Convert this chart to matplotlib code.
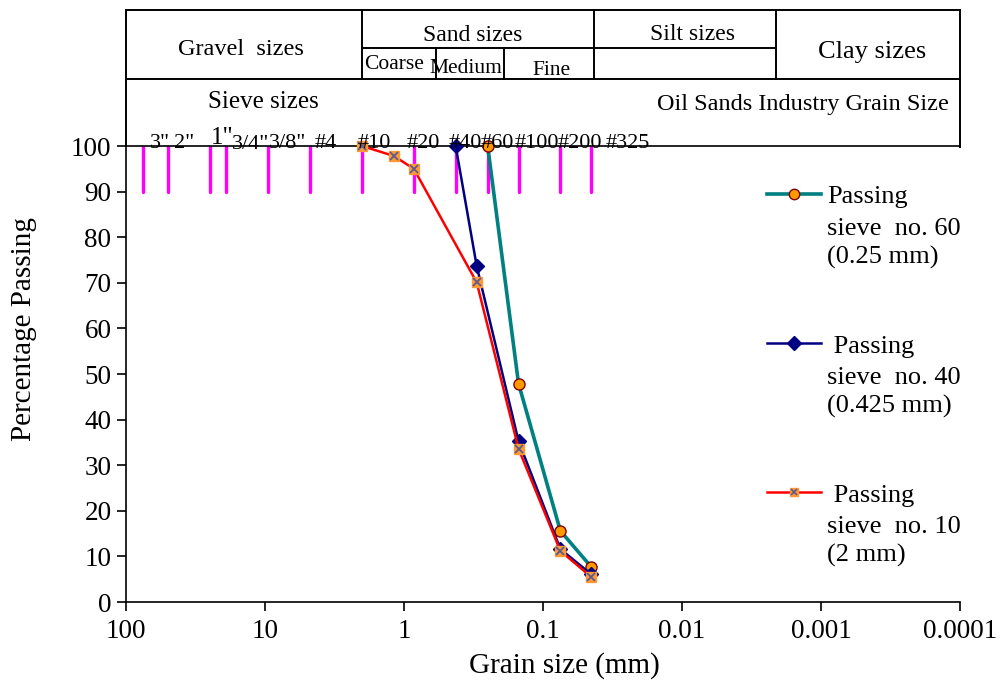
import matplotlib
matplotlib.use("Agg")
import matplotlib.pyplot as plt
from matplotlib.lines import Line2D
import numpy as np

plt.rcParams['font.family'] = ['Liberation Serif', 'DejaVu Serif']

# ---------------- data ----------------
grain_60 = [0.25, 0.15, 0.075, 0.045]
pass_60 = [100, 47.9, 15.6, 7.7]

grain_40 = [0.425, 0.3, 0.15, 0.075, 0.045]
pass_40 = [100, 73.7, 35.3, 11.6, 6.1]

grain_10 = [2.0, 1.18, 0.85, 0.3, 0.15, 0.075, 0.045]
pass_10 = [100, 97.8, 95.0, 70.1, 33.6, 11.2, 5.5]

sieve_sizes_mm = [75, 50, 25, 19, 9.5, 4.75, 2.0, 0.85, 0.425, 0.25, 0.15, 0.075, 0.045]
sieve_labels = ['3"', '2"', '1"', '3/4"', '3/8"', '#4', '#10', '#20', '#40', '#60', '#100', '#200', '#325']

x_ticks = [100, 10, 1, 0.1, 0.01, 0.001, 0.0001]
x_tick_labels = ['100', '10', '1', '0.1', '0.01', '0.001', '0.0001']
y_ticks = [0, 10, 20, 30, 40, 50, 60, 70, 80, 90, 100]

legend_labels = [["Passing", "sieve  no. 60", "(0.25 mm)"],
                 [" Passing", "sieve  no. 40", "(0.425 mm)"],
                 [" Passing", "sieve  no. 10", "(2 mm)"]]

# ---------------- figure ----------------
W, H = 1003, 690
fig = plt.figure(figsize=(W / 100, H / 100), dpi=100)

def fx(x):
    return x / W

def fy(y):
    return 1 - y / H

ax_l, ax_r, ax_t, ax_b = 126, 960, 146, 602
ax = fig.add_axes([fx(ax_l), fy(ax_b), (ax_r - ax_l) / W, (ax_b - ax_t) / H])
ax.set_xscale('log')
ax.set_xlim(100, 0.0001)
ax.set_ylim(0, 100)

# sieve marks
for s in sieve_sizes_mm:
    ax.plot([s, s], [90, 100], color='#FF00FF', lw=2.4, solid_capstyle='round', zorder=2)

# series
TEAL = '#008080'
NAVY = '#000080'
RED = '#FF0000'
ORANGE = '#FF9900'

ax.plot(grain_60, pass_60, color=TEAL, lw=2.6, marker='o', ms=8,
        mfc=ORANGE, mec='#800000', mew=1.0, zorder=3, clip_on=False)
ax.plot(grain_40, pass_40, color=NAVY, lw=1.8, marker='D', ms=7.5,
        mfc=NAVY, mec=NAVY, zorder=4, clip_on=False)
ax.plot(grain_10, pass_10, color=RED, lw=1.8, marker='s', ms=6.5,
        mfc='#FF9933', mec='#FF9933', zorder=5, clip_on=False)
ax.plot(grain_10, pass_10, ls='none', marker='x', ms=5.5,
        mec='#5B5B8F', mew=1.3, zorder=6, clip_on=False)

# axes styling
ax.spines['right'].set_visible(False)
for sp in ['left', 'bottom', 'top']:
    ax.spines[sp].set_linewidth(1.2)
ax.set_xticks(x_ticks)
ax.set_xticklabels(x_tick_labels)
ax.xaxis.set_minor_locator(matplotlib.ticker.NullLocator())
ax.set_yticks(y_ticks)
ax.tick_params(axis='both', direction='out', length=6.5, width=1.2,
               labelsize=19.5, pad=4)
ax.tick_params(axis='x', pad=6)

ax.set_xlabel('Grain size (mm)', fontsize=21, va='baseline', ha='center')
ax.xaxis.set_label_coords((564 - ax_l) / (ax_r - ax_l), (ax_b - 673) / (ax_b - ax_t))
ax.set_ylabel('Percentage Passing', fontsize=21, va='center', ha='center',
              rotation_mode='default')
ax.yaxis.set_label_coords((24 - ax_l) / (ax_r - ax_l), (ax_b - 329.5) / (ax_b - ax_t))

# ---------------- header table ----------------
def hline(y, x0, x1, lw=1.4):
    fig.add_artist(Line2D([fx(x0), fx(x1)], [fy(y), fy(y)], color='black', lw=lw,
                          transform=fig.transFigure))

def vline(x, y0, y1, lw=1.4):
    fig.add_artist(Line2D([fx(x), fx(x)], [fy(y0), fy(y1)], color='black', lw=lw,
                          transform=fig.transFigure))

top_y, mid_y, sub_y = 9.5, 79, 47.7
hline(top_y, ax_l, ax_r)
hline(mid_y, ax_l, ax_r)
hline(sub_y, 362, 776)
vline(ax_l, top_y, ax_t)
vline(ax_r, top_y, ax_t + 1)
for xv in [362, 594, 776]:
    vline(xv, top_y, mid_y)
for xv in [435.7, 504]:
    vline(xv, sub_y, mid_y)

def ftext(x, y, s, size, ha='center', va='baseline'):
    fig.text(fx(x), fy(y), s, fontsize=size, ha=ha, va=va)

ftext(241, 55, 'Gravel  sizes', 17.5)
ftext(472.7, 40.7, 'Sand sizes', 17)
ftext(394, 69, 'Coarse', 15.5)
ftext(465.5, 73.3, 'Medium', 15.5)
ftext(551.7, 75, 'Fine', 15.5)
ftext(692.7, 40, 'Silt sizes', 17)
ftext(872, 58.3, 'Clay sizes', 19)
ftext(263, 108.3, 'Sieve sizes', 18)
ftext(949, 110, 'Oil Sands Industry Grain Size', 17.5, ha='right')

# sieve labels (positions in pixels)
label_x = [160, 184.5, 222, 251, 288, 326, 374, 423, 465, 497, 537, 580, 628]
label_y = [148, 148, 143.5, 149, 148, 148, 147.5, 147.5, 147.5, 147.5, 147.5, 147.5, 147.5]
label_sz = [16, 16, 18, 16, 16, 16, 16, 16, 16, 16, 16, 16, 16]
for xs, ys, lab, sz in zip(label_x, label_y, sieve_labels, label_sz):
    ftext(xs, ys, lab, sz)

# ---------------- legend (manual) ----------------
handles_y = [194.3, 342.7, 492]
hx0, hx1 = 767, 821
hxm = (hx0 + hx1) / 2
fig.add_artist(Line2D([fx(hx0), fx(hx1)], [fy(handles_y[0])] * 2, color=TEAL, lw=2.6,
                      transform=fig.transFigure))
fig.add_artist(Line2D([fx(hxm)], [fy(handles_y[0])], marker='o', ms=7.5, mfc=ORANGE,
                      mec='#800000', mew=1.0, transform=fig.transFigure))
fig.add_artist(Line2D([fx(hx0), fx(hx1)], [fy(handles_y[1])] * 2, color=NAVY, lw=1.8,
                      transform=fig.transFigure))
fig.add_artist(Line2D([fx(hxm)], [fy(handles_y[1])], marker='D', ms=7.5, mfc=NAVY,
                      mec=NAVY, transform=fig.transFigure))
fig.add_artist(Line2D([fx(hx0), fx(hx1)], [fy(handles_y[2])] * 2, color=RED, lw=1.8,
                      transform=fig.transFigure))
fig.add_artist(Line2D([fx(hxm)], [fy(handles_y[2])], marker='s', ms=6, mfc='#FF9933',
                      mec='#FF9933', transform=fig.transFigure))
fig.add_artist(Line2D([fx(hxm)], [fy(handles_y[2])], marker='x', ms=5, mec='#5B5B8F',
                      mew=1.2, transform=fig.transFigure))

legend_base = [[203.3, 235, 264], [352.7, 384, 413], [501.7, 533, 562]]
for lines, bases in zip(legend_labels, legend_base):
    for s, b in zip(lines, bases):
        ftext(827, b, s, 19, ha='left')

fig.savefig('out.png', dpi=100)
